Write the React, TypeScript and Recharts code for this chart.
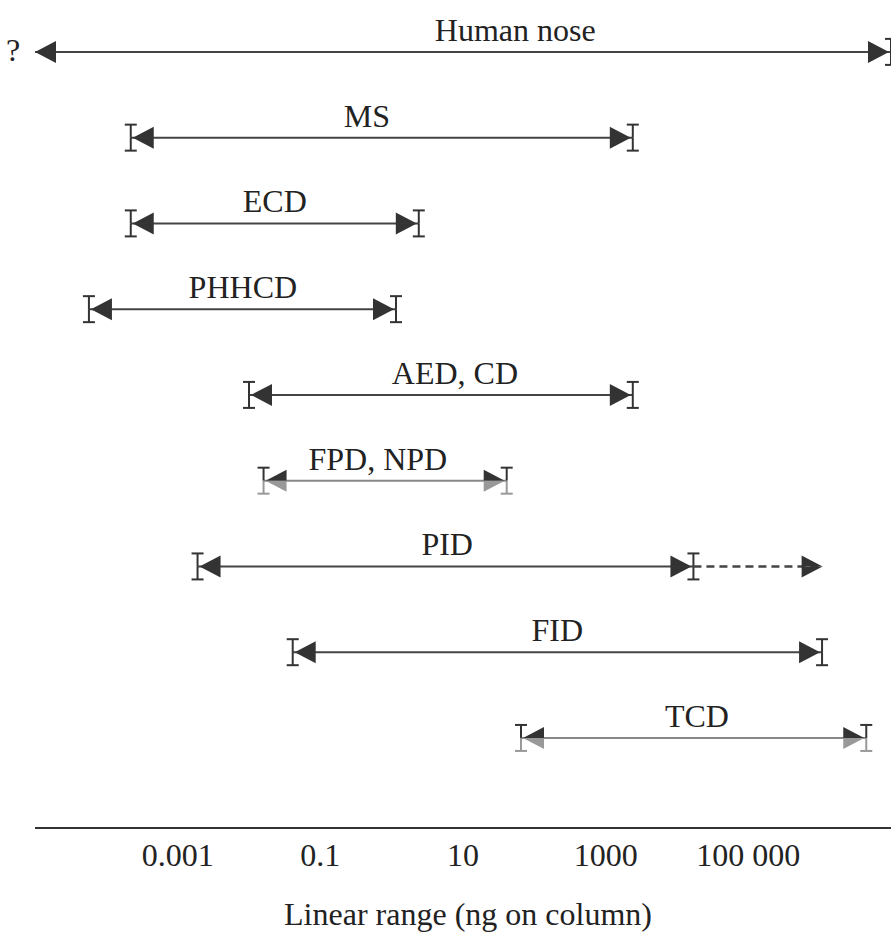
import { ComposedChart, Scatter, XAxis, YAxis } from 'recharts';

const detectors = ['Human nose', 'MS', 'ECD', 'PHHCD', 'AED, CD', 'FPD, NPD', 'PID', 'FID', 'TCD'];
// linear range limits, ng on column
const lowerLimit = [1e-5, 2.2e-4, 2.2e-4, 5.7e-5, 0.01, 0.016, 0.0019, 0.041, 65];
const upperLimit = [1e7, 2400, 2.4, 1.15, 2400, 41, 17000, 1.08e6, 4.5e6];
const labelAt = [54, 0.45, 0.023, 0.0082, 7.7, 0.64, 6, 210, 19000];
const lowerBar = [false, true, true, true, true, true, true, true, true];
const twoTone = [false, false, false, false, false, true, false, false, true];
const pidExtension = [17000, 1.1e6];
const tickValues = [0.001, 0.1, 10, 1000, 100000];
const tickLabels = ['0.001', '0.1', '10', '1000', '100 000'];

const FONT = '"Liberation Serif", "Times New Roman", serif';
const FS = 32;
const DARK = '#333';
const GREY = '#999';

const Marker = (props: any) => {
  const { cx, cy, payload } = props;
  if (cx == null || cy == null || payload.side === 'none') return <g />;
  const dir = payload.side === 'L' ? 1 : -1;
  const tx = payload.bar ? cx + dir * 2 : cx;
  const bx = tx + dir * 21;
  const h = 11;
  const lo = payload.twoTone ? GREY : DARK;
  return (
    <g>
      {payload.prefix && (
        <text x={cx - 22} y={cy + 9} fontSize={FS} fontFamily={FONT} fill="#222" textAnchor="middle">
          {payload.prefix}
        </text>
      )}
      <polygon points={`${tx},${cy} ${bx},${cy - h} ${bx},${cy}`} fill={DARK} />
      <polygon points={`${tx},${cy} ${bx},${cy} ${bx},${cy + h}`} fill={lo} />
      {payload.bar && (
        <g strokeWidth={2}>
          <line x1={cx} y1={cy - 13} x2={cx} y2={cy} stroke={DARK} />
          <line x1={cx - 6} y1={cy - 13} x2={cx + 6} y2={cy - 13} stroke={DARK} />
          <line x1={cx} y1={cy} x2={cx} y2={cy + 13} stroke={lo} />
          <line x1={cx - 6} y1={cy + 13} x2={cx + 6} y2={cy + 13} stroke={lo} />
        </g>
      )}
    </g>
  );
};

const NameLabel = (props: any) => {
  const { cx, cy, payload } = props;
  if (cx == null || cy == null) return <g />;
  return (
    <text x={cx} y={cy - 11} fontSize={FS} fontFamily={FONT} fill="#222" textAnchor="middle">
      {payload.name}
    </text>
  );
};

const ranges = detectors.map((name, i) => [
  { x: lowerLimit[i], row: i, side: 'L', bar: lowerBar[i], twoTone: twoTone[i], prefix: i === 0 ? '?' : '' },
  { x: upperLimit[i], row: i, side: 'R', bar: true, twoTone: twoTone[i] },
]);

const pidRow = detectors.indexOf('PID');
const extension = [
  { x: pidExtension[0], row: pidRow, side: 'none' },
  { x: pidExtension[1], row: pidRow, side: 'R', bar: false },
];

const labels = detectors.map((name, i) => ({ x: labelAt[i], row: i, name }));

const Tick = (props: any) => {
  const { x, y, payload } = props;
  const idx = tickValues.indexOf(payload.value);
  return (
    <text x={x} y={y + 30} fontSize={FS} fontFamily={FONT} fill="#222" textAnchor="middle">
      {idx >= 0 ? tickLabels[idx] : payload.value}
    </text>
  );
};

export default function App() {
  return (
    <div style={{ position: 'absolute', left: 0, top: 0, background: '#fff' }}>
      <ComposedChart width={891} height={937} margin={{ top: 9, right: 0, bottom: 0, left: 35 }}>
        <XAxis
          type="number"
          dataKey="x"
          scale="log"
          domain={[1e-5, 1e7]}
          ticks={tickValues}
          tickLine={false}
          tick={<Tick />}
          height={109}
          axisLine={{ stroke: DARK, strokeWidth: 2 }}
          label={{
            value: 'Linear range (ng on column)',
            position: 'insideBottom',
            offset: 12,
            dx: 5,
            style: { fontSize: FS, fontFamily: FONT, fill: '#222' },
          }}
        />
        <YAxis type="number" dataKey="row" domain={[-0.5, 9.05]} reversed hide />
        {ranges.map((d, i) => (
          <Scatter
            key={detectors[i]}
            data={d}
            line={{ stroke: twoTone[i] ? '#888' : '#444', strokeWidth: 2 }}
            shape={<Marker />}
            isAnimationActive={false}
          />
        ))}
        <Scatter
          data={extension}
          line={{ stroke: '#444', strokeWidth: 2.5, strokeDasharray: '8 5' }}
          shape={<Marker />}
          isAnimationActive={false}
        />
        <Scatter data={labels} shape={<NameLabel />} isAnimationActive={false} />
      </ComposedChart>
    </div>
  );
}
